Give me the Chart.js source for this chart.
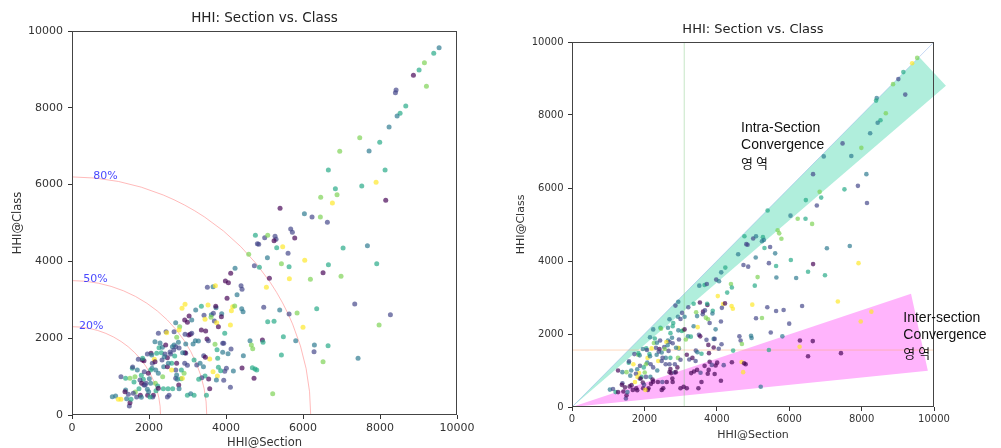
<!DOCTYPE html>
<html>
<head>
<meta charset="utf-8">
<script src="https://cdn.jsdelivr.net/npm/chart.js@4.4.1/dist/chart.umd.min.js"></script>
<style>
  html, body { margin: 0; padding: 0; background: #fff; }
  body { width: 1001px; height: 448px; position: relative; overflow: hidden; }
  .panel { position: absolute; top: 0; }
  #leftPanel { left: 0; }
  #rightPanel { left: 500px; }
</style>
</head>
<body>
<div class="panel" id="leftPanel"><canvas id="leftChart" width="495" height="448"></canvas></div>
<div class="panel" id="rightPanel"><canvas id="rightChart" width="501" height="448"></canvas></div>
<script>
// ── points (same positions in both panels) ──
const sectionHHI = [
  9535, 9396, 9154, 9015, 8868, 9206, 8418, 8400, 8669, 8522, 8444, 8236, 7474, 7993, 7716, 6954,
  6659, 8132, 7526, 7898, 6841, 6884, 6460, 6763, 8149, 5404, 6036, 6235, 6451, 6633, 5681, 5724,
  5785, 4763, 5005, 5083, 5274, 5300, 5248, 4815, 4850, 5317, 5473, 5612, 7041, 7673, 4590, 5075,
  6045, 4737, 4867, 5439, 5638, 6660, 7915, 4235, 4122, 6521, 5127, 5646, 6192, 6988, 5049, 3516,
  3663, 3724, 4391, 4417, 4287, 3984, 4062, 4027, 7344, 4980, 4174, 4140, 4408, 4443, 4226, 5395,
  5638, 5846, 6356, 8270, 2936, 2858, 3213, 3360, 3533, 3741, 3733, 3429, 3620, 3672, 3888, 3880,
  3611, 3455, 3698, 3758, 3802, 4114, 2693, 2927, 2997, 2797, 3360, 3472, 6000, 3074, 3031, 3507,
  3542, 3204, 3715, 3914, 3941, 3967, 4624, 4945, 4962, 5490, 5083, 5248, 5811, 6296, 6287, 6651,
  6521, 7430, 7976, 5439, 5213, 4659, 4694, 4131, 3914, 4053, 3767, 3784, 3577, 3421, 3464, 4451,
  4191, 4417, 3967, 4010, 3802, 3862, 3663, 4685, 4754, 4798, 4728, 3776, 3941, 4114, 3750, 3455,
  3550, 3577, 1047, 1133, 1203, 1272, 1272, 1393, 1419, 1463, 1489, 1506, 1532, 1393, 1506, 1567,
  1575, 1610, 1645, 1680, 1740, 1775, 1801, 1801, 1853, 1870, 1827, 1870, 1922, 1957, 1965, 1991,
  2009, 2052, 1957, 2087, 2078, 2043, 2113, 2095, 2026, 2139, 2174, 2165, 2226, 2182, 2243, 2287,
  2261, 2347, 2321, 2339, 2417, 2382, 2478, 2443, 2434, 2478, 2521, 2373, 2495, 2616, 2478, 2547,
  2564, 2590, 2668, 2651, 2694, 2720, 2763, 2781, 2607, 2642, 2694, 2737, 2772, 2833, 2781, 2911,
  2841, 2867, 2927, 2997, 2954, 2937, 2997, 3084, 2694, 2651, 2781, 2937, 2954, 3110, 3145, 3110,
  3041, 3283, 3171, 3240, 3327, 3414, 3370, 3292, 3171, 3492, 2459, 2155, 2069, 2199, 1835, 2397,
  2874, 2502, 2156, 2588, 2718, 1722, 1696, 1878, 1982, 2242, 2355, 2718, 1636, 1766, 1809, 1896,
  2043, 1376, 1593, 2242
];
const classHHI = [
  9565, 9418, 9175, 8984, 8845, 8559, 8463, 8394, 8046, 7855, 7786, 7499, 7222, 7100, 6875, 6866,
  6380, 6380, 5963, 6059, 5894, 5737, 5668, 5520, 5590, 5382, 5243, 5156, 5156, 5017, 4843, 4757,
  4609, 4679, 4618, 4679, 4653, 4574, 4540, 4462, 4444, 4357, 4383, 4210, 4349, 4409, 4184, 4097,
  4028, 3889, 3845, 3941, 3863, 3915, 3941, 3819, 3689, 3706, 3559, 3550, 3533, 3611, 3324, 3324,
  3342, 3368, 3368, 3272, 3134, 3490, 3446, 3038, 2890, 2804, 2821, 2717, 2769, 2691, 2838, 2734,
  2630, 2656, 2769, 2613, 2882, 2778, 2734, 2830, 2864, 2795, 2830, 2595, 2613, 2647, 2639, 2561,
  2543, 2491, 2448, 2404, 2300, 2344, 2404, 2474, 2413, 2300, 2214, 2187, 2283, 2101, 2083, 1979,
  1936, 1936, 1840, 1866, 1866, 2127, 1936, 1953, 1892, 2040, 2430, 2439, 1936, 1823, 1649, 1805,
  1389, 1476, 2344, 1562, 556, 1823, 1727, 1719, 1632, 1597, 1701, 1476, 1458, 1545, 1502, 1545,
  1146, 1224, 1137, 1215, 1241, 1154, 1128, 1233, 1198, 1172, 955, 1016, 903, 720, 911, 1016,
  938, 686, 477, 495, 408, 408, 998, 651, 425, 538, 234, 321, 408, 955, 955, 1215,
  1250, 859, 599, 469, 686, 512, 460, 1033, 929, 781, 1432, 1415, 825, 668, 512, 608,
  946, 1606, 1589, 1345, 1215, 1172, 512, 469, 469, 1450, 1172, 825, 755, 634, 2126, 1875,
  1753, 1762, 1623, 1432, 1589, 1259, 1259, 2170, 1823, 469, 512, 686, 686, 686, 1493, 1641,
  1589, 1345, 1537, 1823, 1779, 2023, 1896, 1745, 1779, 1693, 955, 929, 781, 946, 686, 1085,
  1172, 955, 1345, 1293, 1606, 1623, 512, 555, 1172, 2170, 2213, 2100, 1849, 2126, 1849, 2474,
  2578, 1927, 1432, 1302, 1345, 1259, 973, 929, 512, 512, 2143, 1909, 1562, 1606, 1476, 1518,
  1623, 1346, 1389, 1172, 1346, 1450, 1172, 1128, 1085, 1085, 998, 1042, 998, 911, 824, 781,
  825, 607, 564, 694
];
// colour class of each point (0 = dark purple ... 5 = yellow), per panel
const colorLeft = [
  2, 3, 4, 3, 0, 4, 1, 1, 3, 3, 2, 2, 4, 3, 2, 4,
  3, 3, 3, 5, 3, 4, 4, 5, 0, 0, 2, 1, 4, 1, 1, 1,
  0, 3, 1, 4, 1, 1, 0, 1, 1, 3, 5, 1, 3, 2, 4, 2,
  5, 1, 3, 4, 3, 3, 3, 2, 0, 0, 0, 5, 4, 4, 5, 1,
  2, 5, 1, 1, 2, 0, 0, 0, 1, 1, 5, 5, 2, 2, 4, 2,
  1, 4, 3, 1, 5, 5, 2, 3, 5, 2, 0, 1, 2, 1, 2, 0,
  4, 5, 1, 5, 0, 5, 2, 0, 0, 4, 0, 0, 5, 0, 0, 0,
  1, 2, 4, 1, 1, 3, 2, 0, 3, 3, 3, 3, 2, 2, 1, 3,
  4, 2, 4, 3, 4, 4, 4, 1, 2, 2, 3, 3, 5, 1, 0, 2,
  2, 0, 1, 1, 3, 3, 5, 3, 3, 3, 0, 5, 1, 1, 2, 3,
  0, 0, 2, 2, 5, 5, 1, 2, 2, 1, 1, 0, 3, 3, 4, 3,
  1, 3, 4, 1, 3, 0, 2, 3, 3, 1, 0, 0, 1, 2, 0, 2,
  2, 0, 1, 1, 2, 3, 0, 1, 3, 5, 2, 4, 3, 3, 1, 2,
  3, 2, 3, 1, 1, 2, 0, 1, 0, 1, 1, 3, 3, 3, 0, 1,
  1, 3, 3, 2, 1, 4, 2, 1, 2, 1, 1, 2, 0, 3, 2, 4,
  3, 5, 1, 1, 1, 0, 3, 2, 1, 1, 5, 1, 2, 1, 2, 2,
  0, 2, 3, 1, 2, 2, 1, 3, 3, 3, 5, 2, 2, 3, 3, 2,
  2, 2, 0, 5, 0, 1, 2, 1, 0, 2, 4, 2, 4, 1, 0, 1,
  2, 0, 1, 0
];
const colorRight = [
  4, 5, 3, 1, 4, 1, 2, 3, 4, 3, 2, 2, 1, 4, 2, 2,
  1, 2, 3, 1, 4, 3, 3, 1, 1, 3, 2, 4, 3, 4, 4, 4,
  4, 3, 1, 2, 3, 2, 2, 1, 1, 3, 1, 2, 2, 2, 2, 2,
  3, 1, 1, 1, 3, 0, 5, 3, 2, 3, 4, 2, 2, 3, 3, 2,
  3, 1, 4, 3, 3, 1, 2, 5, 5, 5, 5, 1, 5, 5, 0, 1,
  1, 1, 1, 5, 2, 1, 1, 3, 0, 0, 3, 4, 0, 1, 3, 2,
  1, 2, 4, 4, 1, 1, 2, 2, 1, 3, 2, 5, 1, 4, 3, 1,
  0, 2, 1, 2, 1, 2, 1, 2, 2, 1, 1, 4, 2, 0, 5, 0,
  0, 0, 5, 3, 2, 1, 4, 1, 0, 1, 0, 0, 3, 1, 2, 3,
  1, 0, 0, 0, 0, 1, 0, 5, 0, 0, 5, 0, 0, 0, 0, 0,
  1, 0, 2, 1, 3, 0, 0, 1, 0, 0, 1, 0, 2, 2, 4, 3,
  1, 2, 0, 0, 5, 0, 0, 2, 5, 1, 4, 2, 3, 0, 0, 1,
  4, 3, 2, 5, 2, 4, 0, 0, 5, 3, 1, 2, 0, 0, 2, 3,
  4, 2, 1, 2, 0, 5, 1, 3, 1, 0, 0, 0, 1, 0, 2, 1,
  4, 2, 1, 2, 1, 3, 2, 1, 5, 2, 0, 0, 0, 1, 0, 0,
  1, 0, 4, 1, 2, 5, 0, 0, 1, 2, 3, 2, 1, 0, 4, 2,
  1, 3, 0, 1, 0, 1, 0, 0, 0, 0, 4, 2, 1, 5, 3, 1,
  2, 1, 2, 1, 3, 1, 5, 1, 3, 1, 2, 0, 2, 1, 5, 0,
  1, 0, 0, 0
];

const tickValues = [0, 2000, 4000, 6000, 8000, 10000];

// left panel: share-of-total rings
const arcRadii = [2300, 3500, 6200];
const arcLabels = ['20%', '50%', '80%'];
const arcLabelX = [180, 290, 550];

// right panel: zones and guide lines
const intraZoneX = [0, 9590, 10330];
const intraZoneY = [0, 9590, 8800];
const interZoneX = [0, 9365, 9830];
const interZoneY = [0, 3100, 990];
const diagonalX = [0, 10000];
const diagonalY = [0, 10000];
const sectionMarkX = [3100, 3100];
const sectionMarkY = [0, 10000];
const classMarkX = [0, 10000];
const classMarkY = [1560, 1560];

const intraLabel = ['Intra-Section', 'Convergence', '영 역'];
const interLabel = ['Inter-section', 'Convergence', '영 역'];
const intraLabelAt = [4669, 7652];
const interLabelAt = [9152, 2447];

const chartTitle = 'HHI: Section vs. Class';
const xTitle = 'HHI@Section';
const yTitle = 'HHI@Class';

// viridis steps, semi transparent like the scatter
const viridis = [
  'rgba(68,1,84,0.68)',
  'rgba(65,68,135,0.68)',
  'rgba(42,120,142,0.68)',
  'rgba(34,168,132,0.68)',
  'rgba(122,209,81,0.68)',
  'rgba(253,231,37,0.68)'
];

function pointsOf(xs, ys) {
  return xs.map((x, i) => ({ x, y: ys[i] }));
}

function axisCfg(fontSize, pad, fit) {
  return {
    type: 'linear',
    min: 0,
    max: 10000,
    afterBuildTicks: s => { s.ticks = tickValues.map(v => ({ value: v })); },
    afterFit: fit,
    ticks: {
      color: '#333',
      padding: pad,
      font: { family: 'DejaVu Sans', size: fontSize },
      callback: v => String(v)
    },
    grid: { drawOnChartArea: false, drawTicks: true, tickLength: 4, color: '#333' },
    border: { display: false }
  };
}

function drawFrameAndTitles(chart, o) {
  const { ctx, chartArea: a } = chart;
  ctx.save();
  ctx.strokeStyle = '#444';
  ctx.lineWidth = 1;
  ctx.strokeRect(Math.round(a.left) + 0.5, Math.round(a.top) + 0.5,
    Math.round(a.right - a.left) - 1, Math.round(a.bottom - a.top) - 1);

  const mid = (a.left + a.right) / 2;
  ctx.fillStyle = '#222';
  ctx.textAlign = 'center';
  ctx.textBaseline = 'middle';
  ctx.font = o.titleSize + 'px "DejaVu Sans"';
  ctx.fillText(chartTitle, mid, o.titleY);

  ctx.fillStyle = '#333';
  ctx.font = o.labelSize + 'px "DejaVu Sans"';
  ctx.fillText(xTitle, mid, o.xLabelY);

  ctx.translate(o.yLabelX, (a.top + a.bottom) / 2);
  ctx.rotate(-Math.PI / 2);
  ctx.fillText(yTitle, 0, 0);
  ctx.restore();
}

/* ════════════════════════════
   LEFT PANEL
════════════════════════════ */
const leftDecor = {
  id: 'leftDecor',
  beforeDatasetsDraw(chart) {
    const { ctx, scales: { x, y } } = chart;
    const cx = x.getPixelForValue(0);
    const cy = y.getPixelForValue(0);
    ctx.save();
    ctx.strokeStyle = 'rgba(255,140,140,0.6)';
    ctx.lineWidth = 1;
    arcRadii.forEach(r => {
      const rx = x.getPixelForValue(r) - cx;
      const ry = cy - y.getPixelForValue(r);
      ctx.beginPath();
      ctx.ellipse(cx, cy, rx, ry, 0, -Math.PI / 2, 0);
      ctx.stroke();
    });
    ctx.restore();
  },
  afterDatasetsDraw(chart) {
    const { ctx, scales: { x, y } } = chart;
    ctx.save();
    ctx.fillStyle = 'rgba(40,40,255,0.85)';
    ctx.font = '11px "DejaVu Sans"';
    ctx.textAlign = 'left';
    ctx.textBaseline = 'middle';
    arcRadii.forEach((r, i) => {
      ctx.fillText(arcLabels[i], x.getPixelForValue(arcLabelX[i]), y.getPixelForValue(r) - 1);
    });
    ctx.restore();
  },
  afterDraw(chart) {
    drawFrameAndTitles(chart, { titleSize: 13.5, labelSize: 11.5, titleY: 18, xLabelY: 443, yLabelX: 18 });
  }
};

new Chart(document.getElementById('leftChart'), {
  type: 'scatter',
  data: {
    datasets: [{
      data: pointsOf(sectionHHI, classHHI),
      pointBackgroundColor: colorLeft.map(c => viridis[c]),
      pointBorderWidth: 0,
      pointRadius: 2.5
    }]
  },
  options: {
    responsive: false,
    animation: false,
    layout: { padding: { left: 0, top: 31, right: 38, bottom: 0 } },
    plugins: { legend: { display: false }, tooltip: { enabled: false } },
    scales: {
      x: axisCfg(11, 3, s => { s.height = 33; }),
      y: axisCfg(11, 5, s => { s.width = 72; })
    }
  },
  plugins: [leftDecor]
});

/* ════════════════════════════
   RIGHT PANEL
════════════════════════════ */
function fillZone(chart, xs, ys, color) {
  const { ctx, scales: { x, y } } = chart;
  ctx.save();
  ctx.fillStyle = color;
  ctx.beginPath();
  xs.forEach((v, i) => {
    const px = x.getPixelForValue(v);
    const py = y.getPixelForValue(ys[i]);
    if (i === 0) ctx.moveTo(px, py); else ctx.lineTo(px, py);
  });
  ctx.closePath();
  ctx.fill();
  ctx.restore();
}

function writeLines(chart, lines, at) {
  const { ctx, scales: { x, y } } = chart;
  const px = x.getPixelForValue(at[0]);
  const py = y.getPixelForValue(at[1]);
  ctx.save();
  ctx.fillStyle = '#111';
  ctx.textAlign = 'left';
  ctx.textBaseline = 'middle';
  lines.forEach((t, i) => {
    ctx.font = /[가-힣]/.test(t) ? '13px "Noto Sans CJK KR"' : '14px "Liberation Sans", Arial';
    ctx.fillText(t, px, py + i * 17.5);
  });
  ctx.restore();
}

const rightDecor = {
  id: 'rightDecor',
  beforeDatasetsDraw(chart) {
    fillZone(chart, intraZoneX, intraZoneY, 'rgb(176,238,220)');
    fillZone(chart, interZoneX, interZoneY, 'rgb(255,180,252)');
  },
  afterDraw(chart) {
    drawFrameAndTitles(chart, { titleSize: 13, labelSize: 11, titleY: 30, xLabelY: 435, yLabelX: 21 });
    writeLines(chart, intraLabel, intraLabelAt);
    writeLines(chart, interLabel, interLabelAt);
  }
};

function guide(xs, ys, color) {
  return {
    data: pointsOf(xs, ys),
    showLine: true,
    borderColor: color,
    borderWidth: 1,
    pointRadius: 0
  };
}

new Chart(document.getElementById('rightChart'), {
  type: 'scatter',
  data: {
    datasets: [
      {
        data: pointsOf(sectionHHI, classHHI),
        pointBackgroundColor: colorRight.map(c => viridis[c]),
        pointBorderWidth: 0,
        pointRadius: 2.3
      },
      guide(diagonalX, diagonalY, 'rgba(130,170,230,0.45)'),
      guide(sectionMarkX, sectionMarkY, 'rgba(130,200,130,0.45)'),
      guide(classMarkX, classMarkY, 'rgba(255,170,110,0.45)')
    ]
  },
  options: {
    responsive: false,
    animation: false,
    layout: { padding: { left: 0, top: 42, right: 67, bottom: 0 } },
    plugins: { legend: { display: false }, tooltip: { enabled: false } },
    scales: {
      x: axisCfg(10, 2, s => { s.height = 41; }),
      y: axisCfg(10, 4.5, s => { s.width = 72; })
    }
  },
  plugins: [rightDecor]
});
</script>
</body>
</html>
